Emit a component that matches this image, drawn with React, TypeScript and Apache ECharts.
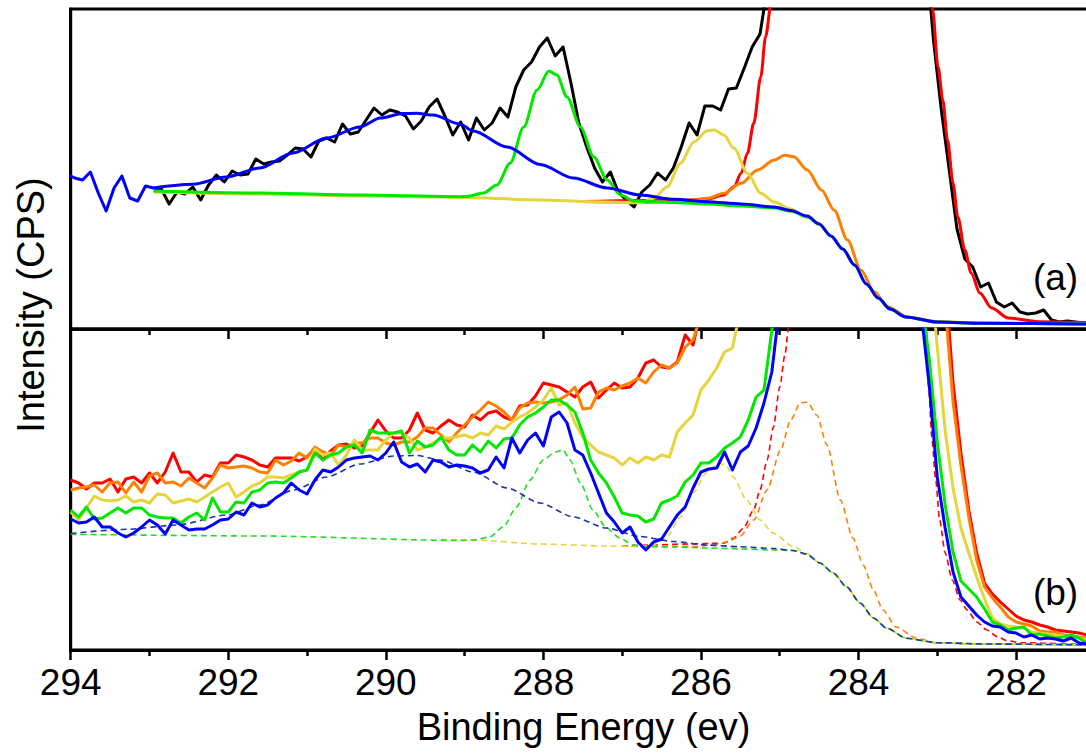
import React, { useEffect, useRef } from "react";
import * as echarts from "echarts";

// ---------- Panel (a): measured spectrum sampled every 0.1 eV ----------
const energyA = [
  294.05, 293.95, 293.85, 293.75, 293.65, 293.55, 293.45, 293.35, 293.25, 293.15,
  293.05, 292.95, 292.85, 292.75, 292.65, 292.55, 292.45, 292.35, 292.25, 292.15,
  292.05, 291.95, 291.85, 291.75, 291.65, 291.55, 291.45, 291.35, 291.25, 291.15,
  291.05, 290.95, 290.85, 290.75, 290.65, 290.55, 290.45, 290.35, 290.25, 290.15,
  290.05, 289.95, 289.85, 289.75, 289.65, 289.55, 289.45, 289.35, 289.25, 289.15,
  289.05, 288.95, 288.85, 288.75, 288.65, 288.55, 288.45, 288.35, 288.25, 288.15,
  288.05, 287.95, 287.85, 287.75, 287.65, 287.55, 287.45, 287.35, 287.25, 287.15,
  287.05, 286.95, 286.85, 286.75, 286.65, 286.55, 286.45, 286.35, 286.25, 286.15,
  286.05, 285.95, 285.85, 285.75, 285.65, 285.55, 285.45, 285.35, 285.25, 285.15,
  285.05, 284.95, 284.85, 284.75, 284.65, 284.55, 284.45, 284.35, 284.25, 284.15,
  284.05, 283.95, 283.85, 283.75, 283.65, 283.55, 283.45, 283.35, 283.25, 283.15,
  283.05, 282.95, 282.85, 282.75, 282.65, 282.55, 282.45, 282.35, 282.25, 282.15,
  282.05, 281.95, 281.85, 281.75, 281.65, 281.55, 281.45, 281.35, 281.25, 281.15,
  281.05,
];

const rawA = [
  null, null, null, null, null, null, null, null, null, null,
  null, 141, 140, 125, 137, 135, 142, 129, 144, 154,
  147, 158, 154, 155, 170, 165, 167, 168, 174, 181,
  180, 172, 188, 191, 187, 205, 195, 197, 209, 221,
  214, 219, 217, 213, 200, 208, 222, 230, 213, 194,
  207, 189, 211, 199, 206, 221, 212, 242, 259, 267,
  282, 291, 273, 282, 246, 206, 182, 161, 147, 157,
  137, 129, 122, 137, 144, 156, 149, 161, 182, 206,
  194, 223, 223, 219, 240, 241, 261, 282, 295, 345,
  440, 590, 740, 880, 1000, 1080, 1120, 1130, 1110, 1070,
  1010, 940, 860, 780, 700, 630, 560, 500, 440, 385,
  290, 220, 160, 100, 70, 62, 42, 46, 27, 22,
  26, 17, 15, 16, 19, 9, 7, 8, 7, 6,
  7,
];

// noisy start of the envelope (first 12 energies of energyA)
const envStartA = [155, 151, 149, 157, 136, 118, 141, 153, 131, 128, 143, 141];

// fitted components, panel (a): [binding energy, intensity]
const fitBlueA = [
  [292.95, 141], [292.45, 144.7], [292.03, 152], [291.6, 161], [291.18, 176],
  [290.75, 191], [290.33, 202], [290.07, 211], [289.78, 215.5], [289.61, 215.7],
  [289.4, 214], [289.06, 205], [288.89, 198], [288.46, 182], [288.04, 164.5],
  [287.62, 151], [287.19, 141], [286.77, 134], [286.34, 129.7], [285.92, 127.3],
  [285.49, 125], [285.07, 122], [284.86, 118.5], [284.65, 113], [284.5, 105],
  [284.35, 93], [284.2, 80], [284.05, 64], [283.9, 45], [283.75, 31],
  [283.6, 20], [283.4, 12], [283.0, 7], [282.4, 5.7], [281.0, 5],
];
const fitGreenA = [
  [292.95, 138], [291.6, 136], [290.33, 134], [289.06, 132.3], [288.97, 132.5],
  [288.76, 136], [288.59, 144], [288.42, 166], [288.25, 202], [288.08, 239],
  [287.93, 258], [287.83, 254], [287.7, 232], [287.53, 202], [287.36, 172],
  [287.19, 149], [287.02, 134], [286.85, 128], [286.34, 126.5], [285.92, 125],
  [285.49, 123], [285.07, 121], [284.86, 118], [284.65, 112], [284.5, 105],
  [284.35, 93], [284.2, 80], [284.05, 64], [283.9, 45], [283.75, 31],
  [283.6, 20], [283.4, 12], [283.0, 7], [282.4, 5.7], [281.0, 5],
];
const fitYellowA = [
  [292.95, 137], [291.6, 135], [290.33, 133], [289.31, 132], [288.89, 131.3],
  [288.04, 129], [287.4, 127.3], [286.77, 126.3], [286.6, 130.7], [286.43, 142],
  [286.26, 165.7], [286.09, 187], [285.92, 198.3], [285.83, 199], [285.71, 194],
  [285.58, 180.7], [285.41, 155.7], [285.24, 135.7], [285.07, 127], [284.86, 120],
  [284.65, 112], [284.5, 105], [284.35, 93], [284.2, 80], [284.05, 64],
  [283.9, 45], [283.75, 31], [283.6, 20], [283.4, 12], [283.0, 7],
  [282.4, 5.7], [281.0, 5],
];
const fitOrangeA = [
  [287.5, 127.5], [286.77, 126.5], [286.34, 127.3], [286.13, 129], [285.92, 130.7],
  [285.71, 135.7], [285.49, 145.7], [285.28, 159], [285.07, 169], [284.94, 173.7],
  [284.82, 172.3], [284.65, 159], [284.47, 139], [284.31, 119], [284.14, 89],
  [283.97, 59], [283.8, 37.3], [283.63, 22.3], [283.37, 11.7], [282.99, 7.3],
  [282.4, 5.8], [281.0, 5],
];
const fitRedA = [
  [287.5, 127.5], [286.13, 129], [285.92, 130], [285.71, 134], [285.58, 142.3],
  [285.49, 155.7], [285.41, 175.7], [285.33, 205.7], [285.24, 252.3], [285.18, 292],
  [285.11, 325], [285.0, 400], [284.8, 560], [284.5, 760], [284.2, 800],
  [283.9, 760], [283.6, 660], [283.35, 520], [283.2, 420], [283.06, 320],
  [282.99, 262], [282.93, 229], [282.87, 189], [282.8, 146], [282.74, 112],
  [282.65, 79], [282.57, 56], [282.46, 36], [282.31, 21], [282.1, 11],
  [281.72, 7.3], [281.0, 6.3],
];

// ---------- Panel (b): five measured spectra sampled every 0.1 eV ----------
const energyB = [
  294.0, 293.9, 293.8, 293.7, 293.6, 293.5, 293.4, 293.3, 293.2, 293.1,
  293.0, 292.9, 292.8, 292.7, 292.6, 292.5, 292.4, 292.3, 292.2, 292.1,
  292.0, 291.9, 291.8, 291.7, 291.6, 291.5, 291.4, 291.3, 291.2, 291.1,
  291.0, 290.9, 290.8, 290.7, 290.6, 290.5, 290.4, 290.3, 290.2, 290.1,
  290.0, 289.9, 289.8, 289.7, 289.6, 289.5, 289.4, 289.3, 289.2, 289.1,
  289.0, 288.9, 288.8, 288.7, 288.6, 288.5, 288.4, 288.3, 288.2, 288.1,
  288.0, 287.9, 287.8, 287.7, 287.6, 287.5, 287.4, 287.3, 287.2, 287.1,
  287.0, 286.9, 286.8, 286.7, 286.6, 286.5, 286.4, 286.3, 286.2, 286.1,
  286.0, 285.9, 285.8, 285.7, 285.6, 285.5, 285.4, 285.3, 285.2, 285.1,
  285.0, 284.9, 284.8, 284.7, 284.6, 284.5, 284.4, 284.3, 284.2, 284.1,
  284.0, 283.9, 283.8, 283.7, 283.6, 283.5, 283.4, 283.3, 283.2, 283.1,
  283.0, 282.9, 282.8, 282.7, 282.6, 282.5, 282.4, 282.3, 282.2, 282.1,
  282.0, 281.9, 281.8, 281.7, 281.6, 281.5, 281.4, 281.3, 281.2, 281.1,
];

const redB = [
  170, 167, 161, 167, 167, 171, 158, 171, 173, 167,
  177, 167, 178, 197, 178, 178, 168, 175, 173, 187,
  187, 195, 193, 190, 185, 183, 192, 192, 192, 189,
  193, 202, 190, 199, 205, 206, 202, 204, 217, 230,
  219, 212, 212, 220, 237, 220, 217, 224, 230, 225,
  223, 235, 230, 237, 239, 233, 230, 244, 245, 254,
  267, 265, 263, 258, 253, 263, 268, 252, 260, 267,
  262, 263, 272, 287, 290, 283, 282, 288, 315, 305,
  340, 380, 440, 510, 590, 680, 780, 880, 990, 1100,
  1200, 1300, 1380, 1440, 1480, 1500, 1490, 1450, 1380, 1290,
  1180, 1080, 1000, 920, 840, 760, 690, 620, 560, 500,
  440, 372, 267, 197, 140, 97, 67, 56, 48, 41,
  34, 30, 28, 25, 23, 20, 19, 18, 17, 15,
];
const orangeB = [
  160, 162, 163, 165, 158, 167, 168, 157, 168, 158,
  174, 177, 167, 168, 164, 172, 167, 162, 172, 185,
  182, 183, 184, 182, 178, 177, 190, 185, 189, 197,
  192, 203, 198, 195, 205, 203, 207, 207, 212, 212,
  207, 205, 208, 208, 213, 222, 222, 215, 208, 217,
  225, 233, 240, 248, 244, 238, 230, 242, 247, 248,
  247, 248, 250, 255, 263, 241, 242, 258, 262, 260,
  264, 267, 272, 267, 278, 285, 282, 287, 303, 310,
  335, 370, 420, 480, 550, 630, 720, 810, 900, 990,
  1080, 1160, 1230, 1280, 1310, 1320, 1310, 1280, 1220, 1150,
  1070, 990, 910, 830, 760, 690, 620, 560, 500, 430,
  430, 345, 248, 185, 133, 90, 63, 52, 43, 33,
  28, 26, 24, 19, 18, 18, 15, 14, 13, 12,
];
const yellowB = [
  138, 130, 142, 154, 150, 149, 150, 154, 148, 150,
  147, 156, 155, 147, 149, 151, 148, 153, 158, 163,
  167, 153, 158, 164, 167, 173, 173, 172, 175, 178,
  180, 201, 195, 197, 185, 195, 210, 200, 200, 200,
  210, 217, 217, 212, 200, 203, 207, 212, 212, 213,
  215, 212, 217, 215, 224, 221, 228, 233, 237, 243,
  250, 262, 245, 247, 227, 213, 205, 198, 195, 192,
  185, 192, 187, 193, 190, 195, 193, 218, 227, 235,
  260, 270, 282, 298, 302, 340, 380, 430, 490, 560,
  640, 720, 800, 870, 920, 950, 960, 950, 920, 870,
  810, 750, 690, 630, 580, 540, 500, 470, 440, 390,
  303, 219, 162, 122, 97, 73, 51, 32, 26, 24,
  23, 22, 18, 17, 16, 15, 14, 13, 12, 10,
];
const greenB = [
  140, 133, 143, 131, 132, 137, 142, 137, 142, 142,
  135, 133, 132, 132, 127, 133, 137, 130, 152, 138,
  138, 148, 147, 158, 160, 167, 168, 167, 172, 178,
  180, 197, 190, 195, 197, 203, 205, 197, 220, 217,
  217, 217, 219, 197, 209, 203, 205, 213, 200, 195,
  195, 205, 198, 209, 202, 211, 212, 225, 233, 237,
  243, 250, 250, 245, 238, 217, 190, 177, 167, 153,
  137, 135, 134, 128, 131, 147, 150, 154, 168, 175,
  187, 187, 193, 202, 207, 213, 230, 253, 260, 320,
  400, 480, 560, 630, 690, 730, 750, 740, 710, 660,
  600, 550, 510, 480, 450, 430, 410, 395, 350, 290,
  208, 145, 98, 69, 61, 53, 41, 28, 25, 20,
  22, 23, 15, 16, 14, 12, 13, 15, 12, 7,
];
const blueB = [
  131, 127, 128, 133, 123, 123, 117, 113, 117, 123,
  130, 125, 116, 130, 125, 120, 121, 121, 125, 130,
  131, 138, 135, 147, 143, 145, 152, 157, 167, 160,
  156, 170, 180, 178, 183, 190, 192, 193, 194, 190,
  197, 208, 188, 183, 186, 178, 190, 188, 183, 185,
  184, 182, 177, 180, 193, 182, 212, 197, 210, 217,
  204, 233, 238, 227, 200, 195, 177, 157, 137, 128,
  117, 123, 108, 100, 108, 111, 123, 135, 143, 162,
  178, 181, 182, 198, 180, 198, 204, 222, 247, 278,
  345, 420, 500, 570, 630, 670, 690, 680, 650, 610,
  560, 510, 470, 440, 415, 395, 380, 365, 335, 263,
  173, 122, 78, 53, 44, 35, 28, 24, 23, 18,
  17, 13, 15, 11, 12, 11, 9, 12, 7, 6,
];

// fitted components, panel (b) (dashed): [binding energy, intensity]
const dashBlueB = [
  [294.0, 116.5], [293.29, 120.7], [292.65, 125], [292.02, 135], [291.6, 145],
  [291.17, 160], [290.75, 173], [290.33, 186], [289.9, 194], [289.6, 194.5],
  [289.31, 190], [288.89, 178], [288.46, 162], [288.04, 147], [287.62, 133],
  [287.2, 122], [286.78, 113.5], [286.35, 108.5], [285.93, 105], [285.51, 103.3],
  [285.08, 101.5], [284.83, 99.5], [284.66, 96], [284.49, 87], [284.32, 77],
  [284.15, 63], [283.98, 47], [283.81, 32], [283.64, 21.7], [283.39, 11.7],
  [283.01, 7.3], [282.38, 6], [281.0, 5],
];
const dashGreenB = [
  [294.0, 115.7], [291.6, 114], [289.06, 109.5], [288.89, 110], [288.68, 113],
  [288.51, 123], [288.34, 143], [288.17, 170], [288.0, 190], [287.85, 198],
  [287.75, 200], [287.66, 190], [287.53, 167], [287.37, 140], [287.2, 122],
  [287.03, 112], [286.86, 105], [286.69, 103.3], [286.35, 103], [285.9, 102],
  [285.5, 101], [285.08, 100], [284.83, 99.5], [284.66, 96], [284.49, 87],
  [284.32, 77], [284.15, 63], [283.98, 47], [283.81, 32], [283.64, 21.7],
  [283.39, 11.7], [283.01, 7.3], [282.38, 6], [281.0, 5],
];
const dashYellowB = [
  [289.3, 110.5], [288.89, 110], [288.04, 106], [287.2, 104], [286.78, 103.3],
  [286.6, 105], [286.43, 113.3], [286.26, 133], [286.1, 157], [285.93, 177],
  [285.76, 187], [285.67, 183], [285.59, 173], [285.42, 150], [285.25, 130],
  [285.08, 116.7], [284.83, 103.5], [284.66, 96.5], [284.49, 87], [284.32, 77],
  [284.15, 63], [283.98, 47], [283.81, 32], [283.64, 21.7], [283.39, 11.7],
  [283.01, 7.3], [282.38, 6], [281.0, 5],
];
const dashOrangeB = [
  [287.0, 104], [286.1, 103.5], [285.84, 105], [285.67, 108], [285.5, 114],
  [285.33, 130], [285.16, 160], [284.99, 200], [284.86, 230], [284.74, 247],
  [284.65, 248], [284.53, 235], [284.4, 205], [284.23, 150], [284.07, 112],
  [283.94, 85], [283.81, 60], [283.69, 40], [283.52, 23], [283.27, 12],
  [283.0, 7], [282.5, 6], [281.0, 5],
];
const dashRedB = [
  [287.0, 104], [285.71, 106.7], [285.59, 111.7], [285.46, 121.7], [285.33, 140],
  [285.25, 160], [285.16, 190], [285.08, 223], [285.0, 263], [284.93, 297],
  [284.88, 330], [284.8, 380], [284.6, 520], [284.3, 640], [284.0, 660],
  [283.7, 600], [283.45, 500], [283.25, 400], [283.14, 320], [283.11, 263],
  [283.07, 213], [283.02, 170], [282.97, 130], [282.9, 97], [282.81, 70],
  [282.71, 50], [282.62, 40], [282.5, 28], [282.37, 20], [282.24, 13.3],
  [282.11, 9.3], [281.94, 7.3], [281.0, 5],
];

const xTitle = "Binding Energy (ev)";
const yTitle = "Intensity (CPS)";
const panelLabels = ["(a)", "(b)"];
const hiddenTick = 280; // axis extends past the cropped right edge

const C = {
  black: "#000000",
  red: "#ff0000",
  orange: "#ff8000",
  yellow: "#e6d43c",
  green: "#00e800",
  blue: "#0000ff",
  navy: "#1f35a8",
};

const FONT = '"Liberation Sans", Arial, Helvetica, sans-serif';

function zip(xs: number[], ys: (number | null)[]) {
  const out: number[][] = [];
  xs.forEach((x, i) => {
    const y = ys[i];
    if (y !== null && y !== undefined) out.push([x, y]);
  });
  return out;
}

function line(data: any, color: string, panel: number, opts: any = {}) {
  return {
    type: "line",
    xAxisIndex: panel,
    yAxisIndex: panel,
    data,
    showSymbol: false,
    symbol: "none",
    silent: true,
    clip: true,
    smooth: opts.smooth ?? false,
    smoothMonotone: "x",
    lineStyle: {
      color,
      width: opts.width ?? 3,
      type: opts.dash ? [6, 4] : "solid",
      cap: "butt",
      join: "round",
    },
    emphasis: { disabled: true },
  };
}

function xAxis(gridIndex: number, labels: boolean) {
  return {
    type: "value",
    gridIndex,
    min: 280,
    max: 294,
    interval: 2,
    inverse: true,
    axisLine: { show: true, lineStyle: { color: "#000", width: 3 } },
    axisTick: { show: true, inside: false, length: 10, lineStyle: { color: "#000", width: 2.5 } },
    minorTick: { show: true, splitNumber: 2, length: 6, lineStyle: { color: "#000", width: 2.5 } },
    splitLine: { show: false },
    minorSplitLine: { show: false },
    axisLabel: {
      show: labels,
      color: "#000",
      fontSize: 37,
      fontFamily: FONT,
      margin: 14,
      showMinLabel: false,
      showMaxLabel: true,
      hideOverlap: false,
      formatter: (v: number) => (v === hiddenTick ? "" : String(v)),
    },
  };
}

function yAxis(gridIndex: number, max: number) {
  return {
    type: "value",
    gridIndex,
    min: 0,
    max,
    axisLine: { show: true, lineStyle: { color: "#000", width: 3 } },
    axisTick: { show: false },
    axisLabel: { show: false },
    splitLine: { show: false },
  };
}

export default function App() {
  const ref = useRef<HTMLDivElement>(null);

  useEffect(() => {
    const chart = echarts.init(ref.current as HTMLDivElement, null, { renderer: "svg" });
    const gridBase = {
      left: 70.7,
      width: 14 * 78.78,
      show: true,
      borderColor: "#000",
      borderWidth: 3,
      backgroundColor: "transparent",
      containLabel: false,
      outerBoundsMode: "none",
    };

    const series = [
      // panel (a)
      line(zip(energyA, rawA), C.black, 0),
      line(fitRedA, C.red, 0, { smooth: 0.3 }),
      line(fitOrangeA, C.orange, 0, { smooth: 0.3 }),
      line(fitYellowA, C.yellow, 0, { smooth: 0.3 }),
      line(fitGreenA, C.green, 0, { smooth: 0.3 }),
      line(fitBlueA, C.blue, 0, { smooth: 0.3 }),
      line(zip(energyA.slice(0, envStartA.length), envStartA), C.blue, 0),
      // panel (b) dashed fits
      line(dashRedB, C.red, 1, { smooth: 0.25, dash: true, width: 1.6 }),
      line(dashOrangeB, C.orange, 1, { smooth: 0.25, dash: true, width: 1.6 }),
      line(dashYellowB, C.yellow, 1, { smooth: 0.25, dash: true, width: 1.6 }),
      line(dashGreenB, "#22dd22", 1, { smooth: 0.25, dash: true, width: 1.6 }),
      line(dashBlueB, C.navy, 1, { smooth: 0.25, dash: true, width: 1.6 }),
      // panel (b) spectra
      line(zip(energyB, redB), C.red, 1),
      line(zip(energyB, orangeB), C.orange, 1),
      line(zip(energyB, yellowB), C.yellow, 1),
      line(zip(energyB, greenB), C.green, 1),
      line(zip(energyB, blueB), C.blue, 1),
    ];

    const txt = (text: string, x: number, y: number, size: number, rotation = 0) => ({
      type: "text",
      x,
      y,
      rotation,
      silent: true,
      z: 100,
      style: {
        text,
        fill: "#000",
        fontSize: size,
        fontFamily: FONT,
        align: "center",
        verticalAlign: "middle",
        textAlign: "center",
        textVerticalAlign: "middle",
      },
    });

    chart.setOption({
      animation: false,
      backgroundColor: "#ffffff",
      textStyle: { fontFamily: FONT },
      grid: [
        { ...gridBase, top: 9, height: 320 },
        { ...gridBase, top: 329, height: 321 },
      ],
      xAxis: [xAxis(0, false), xAxis(1, true)],
      yAxis: [yAxis(0, 320), yAxis(1, 321)],
      series,
      graphic: [
        txt(xTitle, 583.5, 727, 38),
        txt(yTitle, 31, 305, 38, Math.PI / 2),
        txt(panelLabels[0], 1055.5, 277, 37),
        txt(panelLabels[1], 1055.5, 592, 37),
      ],
    });

    return () => chart.dispose();
  }, []);

  return (
    <div style={{ position: "absolute", left: 0, top: 0, width: 1086, height: 755, overflow: "hidden", background: "#fff" }}>
      <div ref={ref} style={{ width: 1180, height: 755 }} />
    </div>
  );
}
